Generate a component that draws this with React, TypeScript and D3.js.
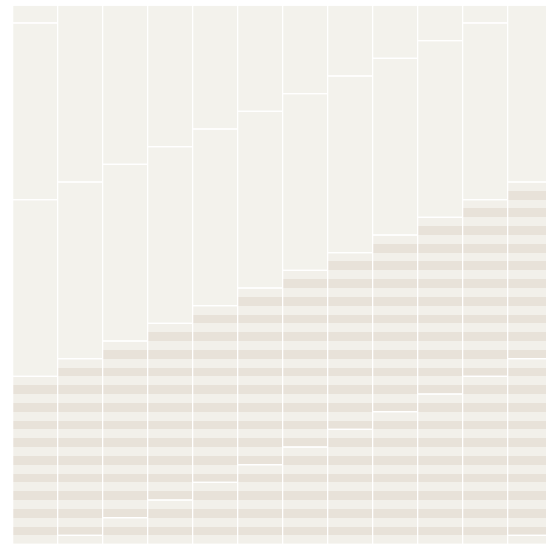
import React from "react";
import * as d3 from "d3";

// Columns of the chart
const categories = ["1", "2", "3", "4", "5", "6", "7", "8", "9", "10", "11", "12"];
// Number of filled (striped) units at the bottom of each column
const filledUnits = [19, 21, 23, 25, 27, 29, 31, 33, 35, 37, 39, 41];
// Block boundaries (in units) for each column
const blockBreaks = [
  [19, 39, 59],
  [1, 21, 41],
  [3, 23, 43],
  [5, 25, 45],
  [7, 27, 47],
  [9, 29, 49],
  [11, 31, 51],
  [13, 33, 53],
  [15, 35, 55],
  [17, 37, 57],
  [19, 39, 59],
  [1, 21, 41],
];
const totalUnits = 61;

const W = 546;
const H = 544;
const COLORS = {
  block: "#f3f2ec",
  stripeLight: "#f2f0ea",
  stripeDark: "#e8e2d9",
  stroke: "#ffffff",
};

export default function App() {
  const x = d3.scaleBand<string>().domain(categories).range([12.7, 12.7 + 45 * 12]).padding(0);
  const y = d3.scaleLinear().domain([0, totalUnits]).range([544.2, 5.3]);
  const bw = x.bandwidth();

  return (
    <svg
      width={W}
      height={H}
      style={{ position: "absolute", left: 0, top: 0, display: "block" }}
    >
      <rect x={0} y={0} width={W} height={H} fill="#ffffff" />
      {categories.map((c, i) => {
        const x0 = x(c) as number;
        const bounds = [0, ...blockBreaks[i], totalUnits];
        const blocks = d3.pairs(bounds);
        const units = d3.range(filledUnits[i]);
        return (
          <g key={c}>
            {blocks.map(([a, b], j) => (
              <rect
                key={"f" + j}
                x={x0}
                y={y(b)}
                width={bw}
                height={y(a) - y(b)}
                fill={COLORS.block}
              />
            ))}
            {units.map((u) => (
              <rect
                key={"s" + u}
                x={x0}
                y={y(u + 1)}
                width={bw}
                height={y(u) - y(u + 1)}
                fill={u % 2 === 0 ? COLORS.stripeLight : COLORS.stripeDark}
                shapeRendering="crispEdges"
              />
            ))}
            {blocks.map(([a, b], j) => (
              <rect
                key={"o" + j}
                x={x0}
                y={y(b)}
                width={bw}
                height={y(a) - y(b)}
                fill="none"
                stroke={COLORS.stroke}
                strokeWidth={1.2}
              />
            ))}
          </g>
        );
      })}
    </svg>
  );
}
